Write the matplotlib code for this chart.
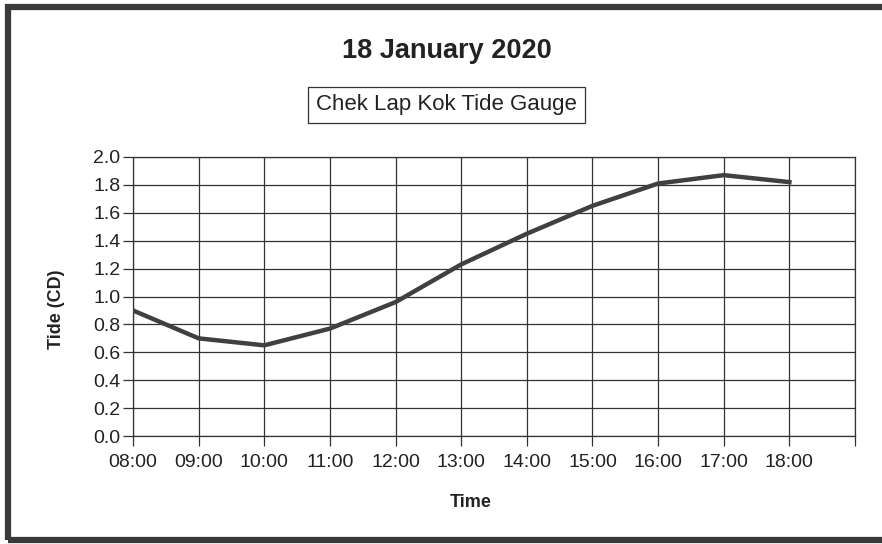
import matplotlib.pyplot as plt
from matplotlib.patches import Rectangle

plt.rcParams['font.family'] = ['Liberation Sans', 'DejaVu Sans']

# données
heures = ["08:00", "09:00", "10:00", "11:00", "12:00", "13:00",
          "14:00", "15:00", "16:00", "17:00", "18:00"]
maree = [0.90, 0.70, 0.65, 0.77, 0.96, 1.23, 1.45, 1.65, 1.81, 1.87, 1.82]
y_ticks = [0.0, 0.2, 0.4, 0.6, 0.8, 1.0, 1.2, 1.4, 1.6, 1.8, 2.0]

fig = plt.figure(figsize=(8.82, 5.44), dpi=100)
ax = fig.add_axes([0.1508, 0.1985, 0.8186, 0.5129])

x = list(range(len(heures)))
ax.plot(x, maree, color='#404040', linewidth=3.2, solid_joinstyle='round', zorder=3)

ax.set_xlim(0, len(heures))
ax.set_ylim(0, 2.0)
ax.set_xticks(list(range(len(heures) + 1)))
ax.set_xticklabels(heures + [""])
ax.set_yticks(y_ticks)
ax.set_yticklabels([f"{v:.1f}" for v in y_ticks])

ax.grid(True, color='#333333', linewidth=0.9)
for s in ax.spines.values():
    s.set_color('#333333')
    s.set_linewidth(0.9)
ax.tick_params(axis='both', direction='out', length=7, width=0.9,
               color='#333333', labelsize=14, labelcolor='#222222')
ax.tick_params(axis='x', pad=6)
ax.tick_params(axis='y', pad=2)

fig.text(0.507, 0.906, "18 January 2020", ha='center', va='center',
         fontsize=19.5, fontweight='bold', color='#222222')
fig.text(0.506, 0.807, "Chek Lap Kok Tide Gauge", ha='center', va='center',
         fontsize=16, color='#222222',
         bbox=dict(boxstyle='square,pad=0.35', facecolor='white',
                   edgecolor='#333333', linewidth=0.9))
fig.text(0.534, 0.0754, "Time", ha='center', va='center',
         fontsize=13, fontweight='bold', color='#222222')
fig.text(0.0646, 0.432, "Tide (CD)", ha='center', va='center', rotation=90,
         fontsize=13, fontweight='bold', color='#222222')

# cadre autour de la figure
fig.patches.append(Rectangle((0.0095, 0.0075), 1.05, 0.98, transform=fig.transFigure,
                             fill=False, edgecolor='#3a3a3a', linewidth=4.5))

fig.savefig("out.png", dpi=100)
